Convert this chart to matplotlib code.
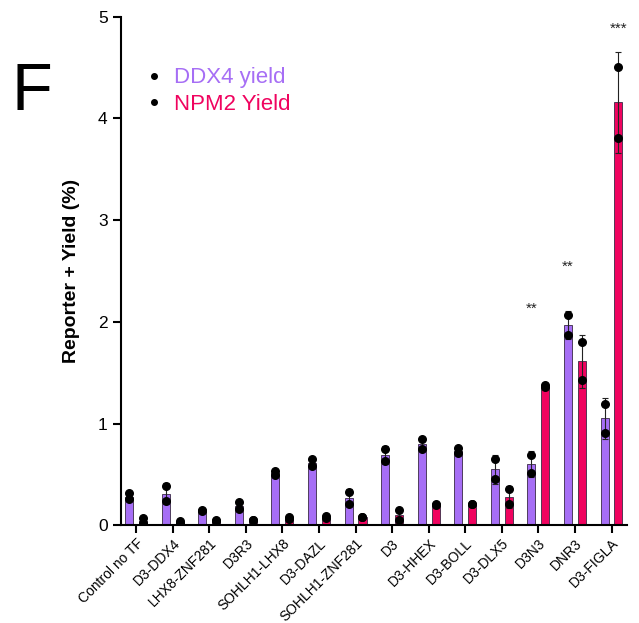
import numpy as np
import matplotlib
matplotlib.use("Agg")
import matplotlib.pyplot as plt
from matplotlib.lines import Line2D

plt.rcParams['font.family'] = ['Liberation Sans', 'DejaVu Sans']

groups = ["Control no TF", "D3-DDX4", "LHX8-ZNF281", "D3R3", "SOHLH1-LHX8",
          "D3-DAZL", "SOHLH1-ZNF281", "D3", "D3-HHEX", "D3-BOLL", "D3-DLX5",
          "D3N3", "DNR3", "D3-FIGLA"]

ddx4_mean = [0.28, 0.31, 0.15, 0.19, 0.51, 0.61, 0.27, 0.69, 0.80, 0.73, 0.55, 0.60, 1.97, 1.05]
ddx4_rep1 = [0.32, 0.39, 0.15, 0.23, 0.53, 0.65, 0.33, 0.75, 0.85, 0.76, 0.65, 0.69, 2.07, 1.19]
ddx4_rep2 = [0.26, 0.24, 0.14, 0.16, 0.49, 0.58, 0.21, 0.63, 0.75, 0.71, 0.45, 0.51, 1.87, 0.91]

npm2_mean = [0.04, 0.03, 0.05, 0.05, 0.07, 0.08, 0.08, 0.10, 0.21, 0.21, 0.28, 1.37, 1.61, 4.16]
npm2_rep1 = [0.07, 0.04, 0.05, 0.05, 0.08, 0.09, 0.08, 0.15, 0.21, 0.21, 0.36, 1.38, 1.80, 4.51]
npm2_rep2 = [0.02, 0.02, 0.04, 0.05, 0.06, 0.07, 0.08, 0.05, 0.20, 0.21, 0.21, 1.36, 1.43, 3.81]

# significance marks: (group, series, label, y)
stars = [("D3N3", "ddx4", "**", 2.13), ("DNR3", "ddx4", "**", 2.54), ("D3-FIGLA", "npm2", "***", 4.88)]

purple = "#a66ef5"
red = "#f0035f"

fig = plt.figure(figsize=(6.39, 6.23), dpi=100)
ax = fig.add_axes([0.189, 0.157, 0.792, 0.816])

x = np.arange(len(groups))
w = 0.22
off = 0.19

ddx4_sd = np.std([ddx4_rep1, ddx4_rep2], axis=0, ddof=1)
npm2_sd = np.std([npm2_rep1, npm2_rep2], axis=0, ddof=1)

for xs, mean, sd, r1, r2, col in [(x - off, ddx4_mean, ddx4_sd, ddx4_rep1, ddx4_rep2, purple),
                                  (x + off, npm2_mean, npm2_sd, npm2_rep1, npm2_rep2, red)]:
    ax.bar(xs, mean, width=w, color=col, edgecolor="#3a2a45", linewidth=0.6, zorder=2)
    ax.errorbar(xs, mean, yerr=sd, fmt="none", ecolor="#222222", elinewidth=0.8,
                capsize=2.5, capthick=0.8, zorder=3)
    ax.scatter(xs, r1, s=30, color="black", zorder=4)
    ax.scatter(xs, r2, s=30, color="black", zorder=4)

for g, series, label, yv in stars:
    i = groups.index(g)
    xv = i - off if series == "ddx4" else i + off
    ax.text(xv, yv, label, ha="center", va="center", fontsize=11, color="#222222")

ax.set_xlim(-0.42, len(groups) - 1 + 0.42)
ax.set_ylim(0, 5)
ax.set_yticks([0, 1, 2, 3, 4, 5])
ax.set_xticks(x)
ax.set_xticklabels(groups, rotation=45, ha="right", rotation_mode="anchor", fontsize=10)
ax.tick_params(axis="both", width=1.5, length=6, direction="out")
ax.tick_params(axis="x", pad=2)
ax.tick_params(axis="y", labelsize=12.5)
ax.spines["top"].set_visible(False)
ax.spines["right"].set_visible(False)
ax.spines["left"].set_linewidth(1.5)
ax.spines["bottom"].set_linewidth(1.5)
ax.set_ylabel("Reporter + Yield (%)", fontsize=14, fontweight="bold", labelpad=13)

handles = [Line2D([], [], marker="o", color="black", linestyle="none", markersize=4),
           Line2D([], [], marker="o", color="black", linestyle="none", markersize=4)]
leg = ax.legend(handles, ["DDX4 yield", "NPM2 Yield"], loc="upper left",
                bbox_to_anchor=(0.005, 0.94), frameon=False, fontsize=16,
                handletextpad=0.4, labelspacing=0.25, handlelength=1.0)
for t, c in zip(leg.get_texts(), [purple, red]):
    t.set_color(c)

fig.text(0.05, 0.85, "F", fontsize=48, va="center", ha="center")

fig.savefig("out.png", dpi=100)
